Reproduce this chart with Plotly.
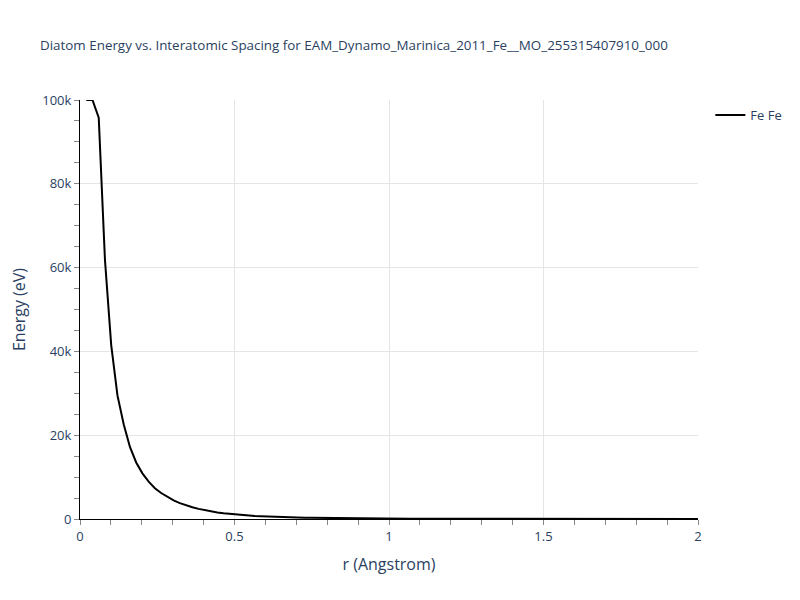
import plotly.graph_objects as go

# Interatomic spacing (Angstrom)
r_values = [round(0.0202020202 * i, 4) for i in range(1, 100)]

# Diatom energy (eV)
energy_ev = [
    100000, 100000, 95800, 61800, 41500, 29500, 22600, 17200, 13500, 10900,
    8900, 7350, 6200, 5300, 4450, 3800, 3250, 2800, 2420, 2080,
    1800, 1570, 1380, 1220, 1080, 950, 840, 740, 660, 590,
    520, 470, 420, 380, 340, 310, 280, 255, 230, 210,
    190, 175, 160, 145, 132, 120, 110, 100, 92, 84,
    77, 70, 64, 58, 53, 48, 44, 40, 36, 33,
    30, 27, 24, 21, 19, 17, 15, 13, 11, 9.5,
    8, 6.5, 5, 4, 3, 2.4, 1.9, 1.5, 1.2, 0.9,
    0.7, 0.5, 0.35, 0.2, 0.1, 0.0, -0.1, -0.2, -0.3, -0.4,
    -0.5, -0.6, -0.7, -0.8, -0.9, -1.0, -1.1, -1.2, -1.3,
]

title_text = "Diatom Energy vs. Interatomic Spacing for EAM_Dynamo_Marinica_2011_Fe__MO_255315407910_000"
series_name = "Fe Fe"

fig = go.Figure()
fig.add_trace(go.Scatter(
    x=r_values, y=energy_ev, mode="lines", name=series_name,
    line=dict(color="black", width=2),
    showlegend=True,
))

axis_common = dict(
    showline=True, linecolor="black", linewidth=1,
    ticks="outside", tickcolor="#888888", ticklen=5, tickwidth=1,
    showgrid=True, gridcolor="#e5e5e5", gridwidth=1,
    zeroline=False,
    tickfont=dict(size=13, color="#2a3f5f"),
    title_font=dict(size=16, color="#2a3f5f"),
)

fig.update_layout(
    width=784, height=584,
    paper_bgcolor="white", plot_bgcolor="white",
    font=dict(family="Open Sans, sans-serif", color="#2a3f5f"),
    title=dict(text=title_text, x=0.0408, xanchor="left", y=0.9435,
               font=dict(size=13.4, color="#2a3f5f")),
    margin=dict(l=72, r=94, t=92, b=73, autoexpand=False),
    legend=dict(x=1.02, y=1, xanchor="left", yanchor="top",
                font=dict(size=13, color="#2a3f5f"), bgcolor="rgba(0,0,0,0)"),
    xaxis=dict(title=dict(text="r (Angstrom)"), range=[0, 2], dtick=0.5,
               minor=dict(ticks="outside", dtick=0.1, ticklen=5, tickcolor="#888888",
                          showgrid=False),
               **axis_common),
    yaxis=dict(title=dict(text="Energy (eV)", standoff=30), range=[0, 100000], dtick=20000,
               minor=dict(ticks="outside", dtick=5000, ticklen=5, tickcolor="#888888",
                          showgrid=False),
               **axis_common),
)

fig.write_html("out.html")
